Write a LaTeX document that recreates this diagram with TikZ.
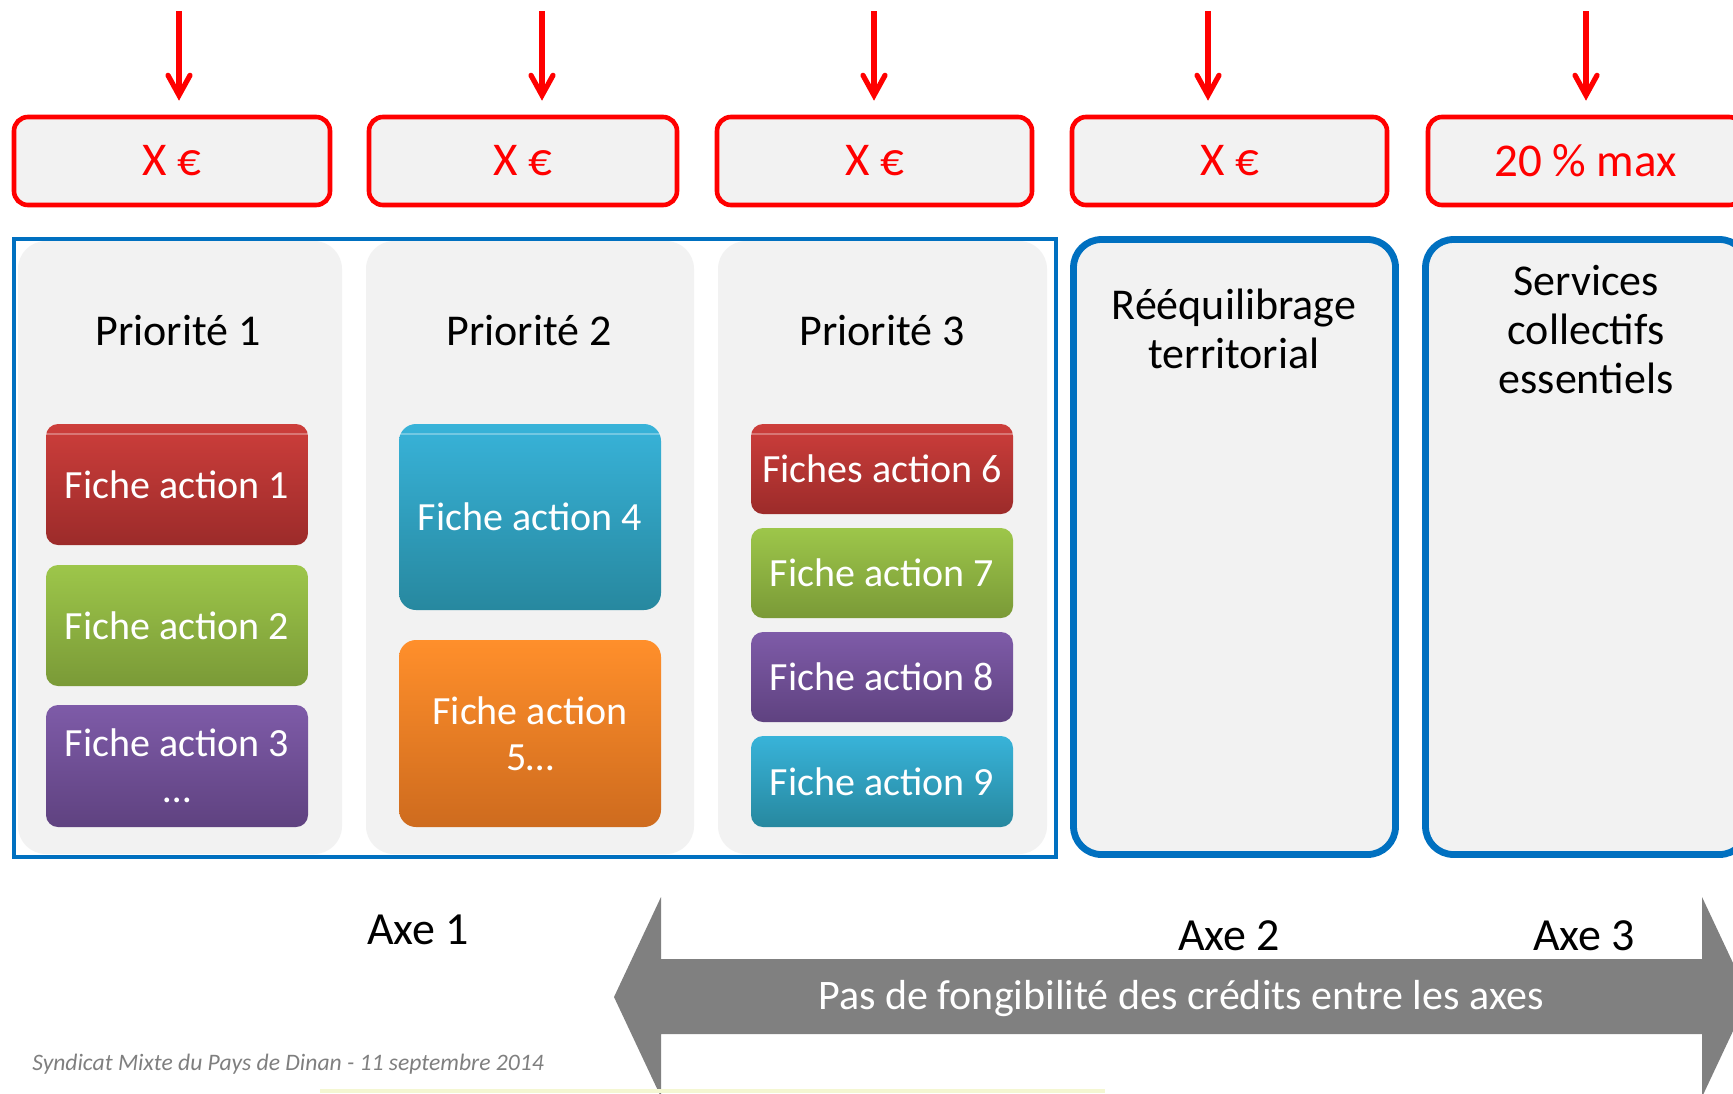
\documentclass[tikz,border=0pt]{standalone}
\usepackage{fontspec}
\setmainfont{Carlito}
\usetikzlibrary{arrows.meta}
\definecolor{boxgray}{HTML}{F2F2F2}
\definecolor{axeblue}{HTML}{0070C0}
\definecolor{arrgray}{HTML}{808080}
\definecolor{footgray}{HTML}{7F7F7F}
\definecolor{fRedT}{HTML}{CD3E3B}
\definecolor{fRedB}{HTML}{9C2B2A}
\definecolor{fGrnT}{HTML}{9DC64A}
\definecolor{fGrnB}{HTML}{7A9A37}
\definecolor{fPurT}{HTML}{7E5BA8}
\definecolor{fPurB}{HTML}{5F4280}
\definecolor{fBluT}{HTML}{38B3D9}
\definecolor{fBluB}{HTML}{27889F}
\definecolor{fOrgT}{HTML}{FF8F2B}
\definecolor{fOrgB}{HTML}{CE6B1E}
\definecolor{stripY}{HTML}{F4F7D2}
\begin{document}
\begin{tikzpicture}[x=0.5pt,y=-0.5pt,
  money/.style={draw=red, line width=2.3pt, fill=boxgray, rounded corners=7pt,
    minimum height=44pt, text=red, font=\fontsize{23.5}{28}\selectfont, inner sep=0pt},
  redarrow/.style={draw=red, line width=2.6pt,
    -{Straight Barb[length=10pt,width=11pt,line cap=round]}, shorten >=7pt},
  colbox/.style={fill=boxgray, rounded corners=14pt, minimum height=306.5pt, inner sep=0pt},
  coltitle/.style={font=\fontsize{22}{26}\selectfont, anchor=base},
  fiche/.style={rounded corners=6pt, minimum width=131pt, text=white,
    font=\fontsize{20}{23}\selectfont, align=center, inner sep=0pt, outer sep=0pt},
  fred/.style={fiche, top color=fRedT, bottom color=fRedB},
  fgrn/.style={fiche, top color=fGrnT, bottom color=fGrnB},
  fpur/.style={fiche, top color=fPurT, bottom color=fPurB},
  fblu/.style={fiche, top color=fBluT, bottom color=fBluB},
  forg/.style={fiche, top color=fOrgT, bottom color=fOrgB},
  gloss/.style={draw=white, draw opacity=0.3, line width=0.6pt},
  axebox/.style={draw=axeblue, line width=3.4pt, fill=boxgray, rounded corners=14pt,
    minimum width=161pt, minimum height=307.5pt, inner sep=0pt},
  axelabel/.style={font=\fontsize{23}{27}\selectfont, anchor=base},
  footer/.style={font=\fontsize{11.8}{14}\selectfont\itshape, text=footgray, anchor=base west, inner sep=0pt}
]
\clip (0,0) rectangle (1733,1093);
\fill[white] (0,0) rectangle (1733,1093);

% money boxes
\node[money, minimum width=158pt] (m1) at (172,161) {X €};
\node[money, minimum width=154pt] (m2) at (523,161) {X €};
\node[money, minimum width=157.5pt] (m3) at (874.5,161) {X €};
\node[money, minimum width=157.5pt] (m4) at (1229.5,161) {X €};
\node[money, minimum width=157.5pt] (m5) at (1585.5,161) {20 \% max};

% red arrows
\coordinate (s1) at (179,11);
\coordinate (s2) at (542,11);
\coordinate (s3) at (874,11);
\coordinate (s4) at (1208,11);
\coordinate (s5) at (1586,11);
\draw[redarrow] (s1) -- (s1 |- m1.north);
\draw[redarrow] (s2) -- (s2 |- m2.north);
\draw[redarrow] (s3) -- (s3 |- m3.north);
\draw[redarrow] (s4) -- (s4 |- m4.north);
\draw[redarrow] (s5) -- (s5 |- m5.north);

% Axe 1 frame
\node[draw=axeblue, line width=2pt, minimum width=521pt, minimum height=309pt, inner sep=0pt] (axe1) at (535,548) {};
\node[colbox, minimum width=162pt] (c1) at (180,547.5) {};
\node[colbox, minimum width=164pt] (c2) at (530,547.5) {};
\node[colbox, minimum width=164.5pt] (c3) at (882.5,547.5) {};
\node[coltitle] (p1) at (178,345) {Priorité 1};
\node[coltitle] (p2) at (529,345) {Priorité 2};
\node[coltitle] (p3) at (882,345) {Priorité 3};

% fiches
\node[fred, minimum height=60.5pt] (f1) at (177,484.5) {Fiche action 1};
\node[fgrn, minimum height=60.5pt] (f2) at (177,625.5) {Fiche action 2};
\node[fpur, minimum height=61pt] (f3) at (177,766) {Fiche action 3\\…};
\node[fblu, minimum height=93pt, rounded corners=8.5pt] (f4) at (530,517) {Fiche action 4};
\node[forg, minimum height=93.5pt, rounded corners=8.5pt] (f5) at (530,733.5) {Fiche action\\5…};
\node[fred, minimum height=45pt] (f6) at (882,469) {Fiches action 6};
\node[fgrn, minimum height=45pt] (f7) at (882,573) {Fiche action 7};
\node[fpur, minimum height=45pt] (f8) at (882,677) {Fiche action 8};
\node[fblu, minimum height=45.5pt] (f9) at (882,781.5) {Fiche action 9};
% gloss lines near the top of some fiches
\draw[gloss] ([yshift=-5pt]f1.north west) -- ([yshift=-5pt]f1.north east);
\draw[gloss] ([yshift=-5pt]f4.north west) -- ([yshift=-5pt]f4.north east);
\draw[gloss] ([yshift=-5pt]f6.north west) -- ([yshift=-5pt]f6.north east);

% Axe 2 and 3 boxes
\node[axebox] (axe2) at (1234.5,547) {};
\node[axebox] (axe3) at (1586.5,547) {};
\node[coltitle] (t2a) at (1234,319) {Rééquilibrage};
\node[coltitle] (t2b) at (1234,368) {territorial};
\node[coltitle] (t3a) at (1586,295) {Services};
\node[coltitle] (t3b) at (1586,344) {collectifs};
\node[coltitle] (t3c) at (1586,393) {essentiels};

% bottom double arrow
\fill[arrgray] (614,997) -- (661,897) -- (661,959) -- (1702,959) -- (1702,897)
  -- (1749,997) -- (1702,1097) -- (1702,1034) -- (661,1034) -- (661,1097) -- cycle;
\node[text=white, font=\fontsize{21}{24}\selectfont] (pas) at (1181,999) {Pas de fongibilité des crédits entre les axes};

% axe labels
\node[axelabel] (l1) at (418,944) {Axe 1};
\node[axelabel] (l2) at (1229,950) {Axe 2};
\node[axelabel] (l3) at (1584,950) {Axe 3};

% footer
\node[footer] (foot) at (32,1070) {Syndicat Mixte du Pays de Dinan - 11 septembre 2014};
\fill[stripY] (320,1089) rectangle (1105,1093);
\end{tikzpicture}
\end{document}
